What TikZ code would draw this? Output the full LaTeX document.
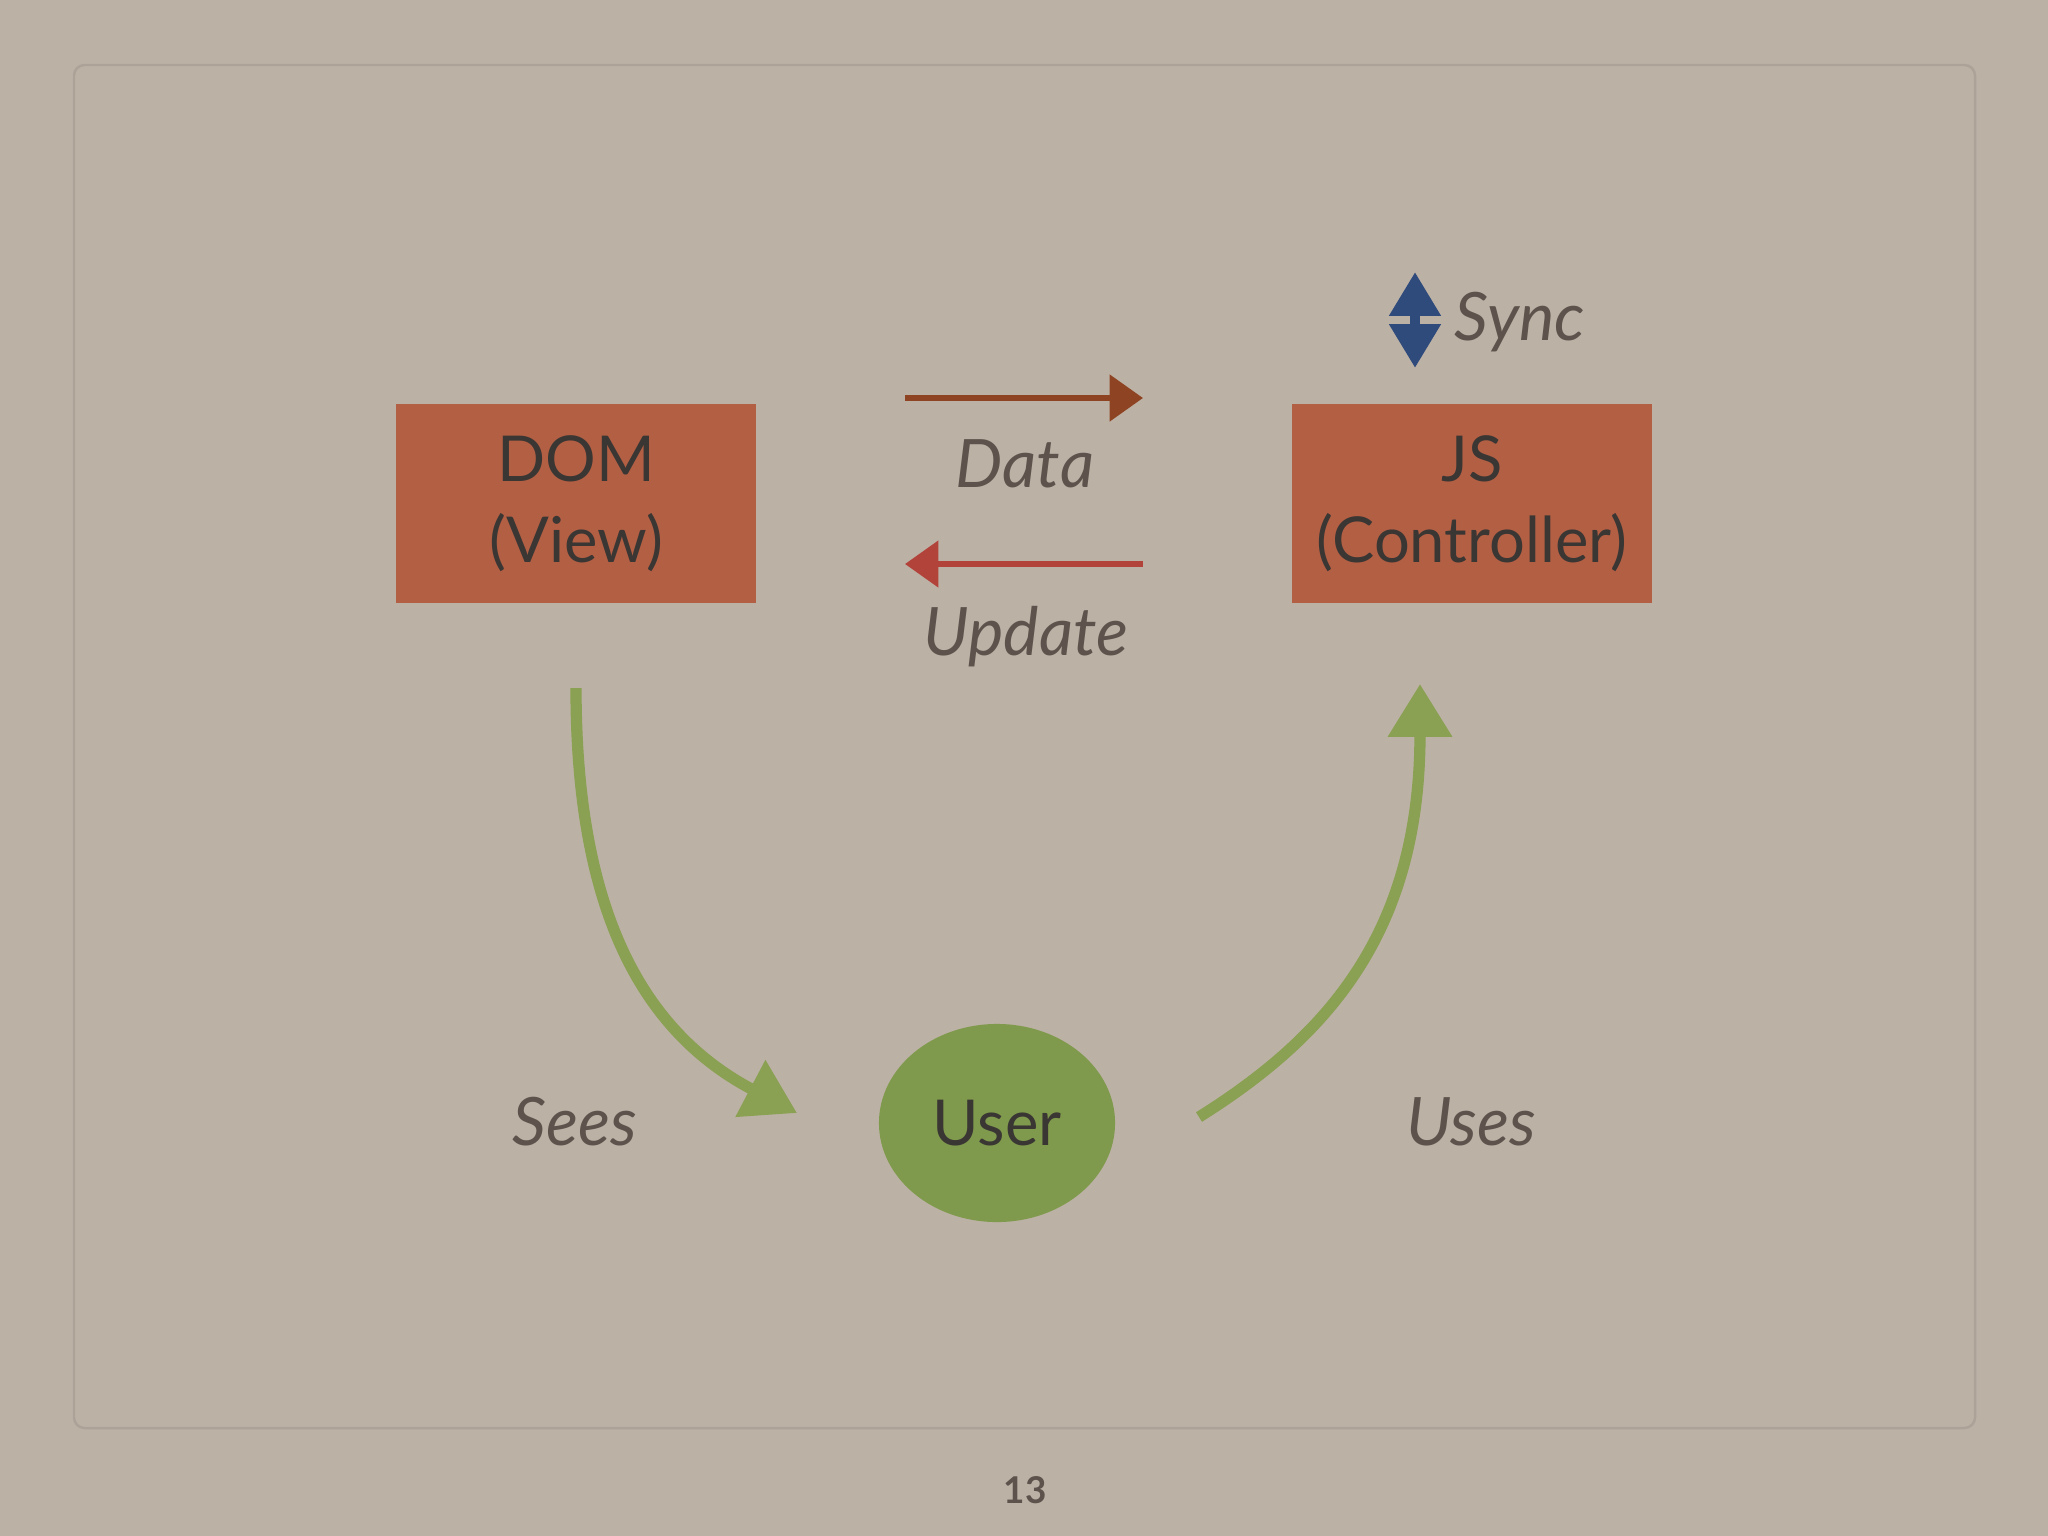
\documentclass[tikz,border=0pt]{standalone}
\usepackage{fontspec}
\setmainfont{Lato}
\usetikzlibrary{shapes,arrows.meta,positioning}

\definecolor{paper}{HTML}{BCB1A5}
\definecolor{panelline}{HTML}{ADA297}
\definecolor{rust}{HTML}{B35F44}
\definecolor{boxtext}{HTML}{3A3633}
\definecolor{labeltext}{HTML}{5E534C}
\definecolor{leaf}{HTML}{8AA052}
\definecolor{userfill}{HTML}{7F9A4C}
\definecolor{databrown}{HTML}{8E4322}
\definecolor{updatered}{HTML}{B2433A}
\definecolor{syncblue}{HTML}{2F4B7C}

\tikzset{
  box/.style={rectangle, fill=rust, text=boxtext, minimum width=3.6cm, minimum height=1.99cm, align=center, font=\fontsize{18}{23}\selectfont},
  userdot/.style={ellipse, fill=userfill, text=boxtext, minimum width=2.36cm, minimum height=1.98cm, inner sep=0pt, font=\fontsize{18}{23}\selectfont},
  lbl/.style={text=labeltext, font=\fontsize{19}{23}\selectfont\itshape},
  flow/.style={line width=1.7pt, -{Triangle[length=9.5pt,width=13pt]}},
  greenloop/.style={leaf, line width=3.2pt, -{Triangle[length=15pt,width=17.5pt]}},
}

\begin{document}
\begin{tikzpicture}[x=0.01cm, y=-0.01cm]
% Paper and slide panel
\fill[paper] (0,0) rectangle (2048,1536);
\draw[panelline, line width=0.7pt, rounded corners=3pt] (74,65) rectangle (1975,1428);

% The two boxes and the user
\node[box] (dom) at (576,503.5) {DOM\\(View)};
\node[box] (js) at (1472,503.5) {JS\\(Controller)};
\node[userdot] (user) at (997,1123) {User};

% Data and update arrows between the boxes
\coordinate (dataL) at (905,398);
\coordinate (dataR) at (1143,398);
\coordinate (updL) at (905,564);
\coordinate (updR) at (1143,564);
\draw[flow, databrown] (dataL) -- (dataR);
\draw[flow, updatered] (updR) -- (updL);
\node[lbl, anchor=base] (data) at (1025,487) {Data};
\node[lbl, anchor=base] (update) at (1026,655) {Update};

% Sync marker above the controller
\coordinate (synctop) at (1415,272);
\coordinate (syncbot) at (1415,368);
\draw[syncblue, line width=3pt, {Triangle[length=12.5pt,width=14pt]}-{Triangle[length=12.5pt,width=14pt]}] (syncbot) -- (synctop);
\node[lbl, anchor=base] (sync) at (1520,340) {Sync};

% Green loop through the user
\coordinate (seesA) at (576,688);
\coordinate (seesB) at (797,1113);
\coordinate (usesA) at (1199,1117);
\coordinate (usesB) at (1420,684);
\draw[greenloop] (seesA) .. controls (576,890) and (630,1025) .. (seesB);
\draw[greenloop] (usesA) .. controls (1330,1035) and (1420,930) .. (usesB);
\node[lbl, anchor=base] (sees) at (575,1145) {Sees};
\node[lbl, anchor=base] (uses) at (1471,1145) {Uses};

% Page number
\node[text=labeltext, font=\fontsize{10.5}{12}\selectfont\bfseries] (pagenum) at (1025,1490) {13};
\end{tikzpicture}
\end{document}
